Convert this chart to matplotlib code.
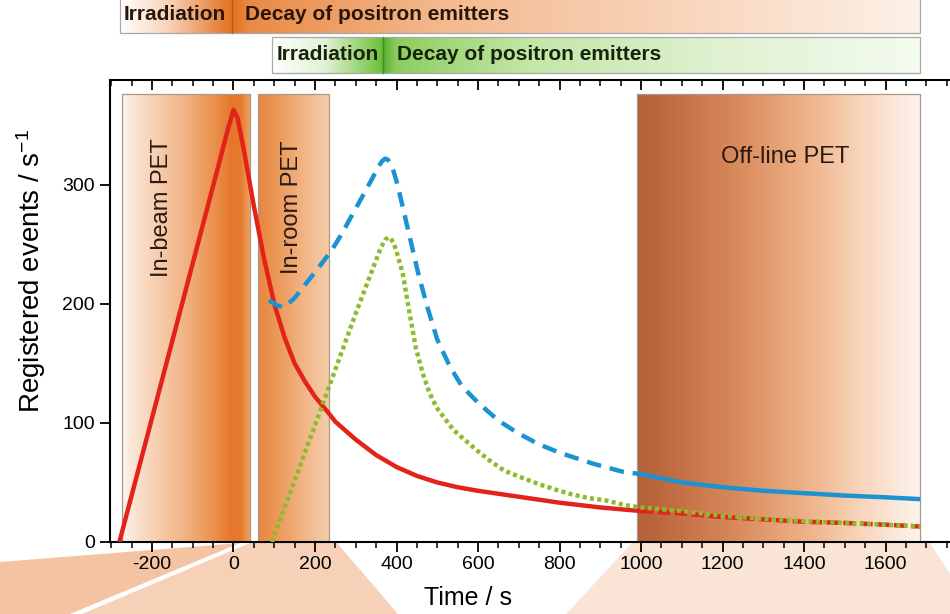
import numpy as np
import matplotlib
matplotlib.use("Agg")
import matplotlib.pyplot as plt
from matplotlib.colors import LinearSegmentedColormap
from matplotlib.patches import Polygon, Rectangle
from matplotlib.ticker import MultipleLocator
from matplotlib import font_manager

plt.rcParams["font.family"] = ["Liberation Sans", "DejaVu Sans"]
plt.rcParams["mathtext.default"] = "regular"

# ---- data (time in s, rate in events/s) ----
red_t = [-280, -200, -100, -40, -15, 0, 10, 25, 50, 75, 100, 125, 150, 175, 200, 234, 250,
         300, 350, 400, 450, 500, 550, 600, 700, 800, 900, 1000, 1100, 1200, 1300, 1400,
         1500, 1600, 1685]
red_v = [0, 104, 234, 312, 345, 363, 356, 330, 282, 238, 200, 172, 150, 135, 122, 108, 101,
         86, 73, 63, 55.5, 50, 46, 43, 38, 33, 29, 26, 24, 21, 19, 17,
         16, 14.5, 13]

blue_t = [87, 105, 124, 150, 180, 210, 241, 266, 290, 316, 340, 355, 365, 372, 379, 386,
          393, 400, 410, 423, 438, 453, 475, 500, 530, 560, 600, 650, 700, 750, 800, 880, 955,
          1000, 1100, 1200, 1300, 1400, 1500, 1600, 1685]
blue_v = [203, 199, 197, 205, 218, 231, 245, 259, 274, 290, 305, 315, 320, 322, 321, 317,
          311, 303, 289, 270, 248, 226, 198, 170, 148, 131, 117, 102, 91, 82, 75, 66, 59,
          57, 50, 46, 43, 41, 39, 37.5, 36]

green_t = [94, 150, 200, 250, 300, 340, 360, 372, 382, 392, 400, 415, 432, 448, 465, 480,
           498, 520, 540, 570, 597, 630, 664, 700, 746, 790, 830, 870, 913, 960, 1000,
           1100, 1200, 1300, 1400, 1500, 1600, 1685]
green_v = [0, 52, 98, 145, 192, 228, 246, 254, 256, 252, 244, 226, 192, 162, 141, 126,
           113, 103, 94, 85, 77, 68, 60, 55, 49, 44, 40, 37, 35, 31, 29,
           26, 22, 19.5, 17.5, 16, 14.5, 13]

# measurement windows (start, end) in s
in_beam = (-274, 40)
in_room = (60, 234)
off_line = (990, 1685)
window_top = 376
switch_t = 1000   # after this time the curves change line style

x_ticks = [-200, 0, 200, 400, 600, 800, 1000, 1200, 1400, 1600]
y_ticks = [0, 100, 200, 300]

W, H = 950, 614
fig = plt.figure(figsize=(W / 100, H / 100), dpi=100)

# ---- figure-level decoration layer in pixel coordinates ----
bg = fig.add_axes([0, 0, 1, 1])
bg.axis("off")


def gradient(axis, x0, x1, y0, y1, stops, z):
    cmap = LinearSegmentedColormap.from_list("g", stops)
    axis.imshow(np.linspace(0, 1, 512)[None, :], cmap=cmap, extent=(x0, x1, y0, y1),
                aspect="auto", interpolation="bilinear", zorder=z)


# projection wedges beneath the axis
bg.add_patch(Polygon([(0, 562), (240, 543), (70, 614), (0, 614)], closed=True,
                     facecolor="#f3c3a2", edgecolor="none", zorder=0))
bg.add_patch(Polygon([(250, 543), (337, 543), (398, 614), (82, 614)], closed=True,
                     facecolor="#f6d1b8", edgecolor="none", zorder=0))
bg.add_patch(Polygon([(632, 543), (930, 543), (950, 574), (950, 614), (566, 614)], closed=True,
                     facecolor="#f9e4d6", edgecolor="none", zorder=0))

# orange time bar
gradient(bg, 120, 920, 33, -5,
         [(0.0, "#ffffff"), (0.06, "#f7d2b8"), (0.13, "#e67a2e"), (0.14, "#e2701f"),
          (0.16, "#e98a45"), (0.40, "#f3b98f"), (0.70, "#f8d5bb"), (1.0, "#fdf1e8")], 1)
bg.add_patch(Rectangle((120, -5), 800, 38, fill=False, edgecolor="#a8a8a8", lw=0.9, zorder=2))
bg.plot([232, 232], [-5, 33], color="#b85a18", lw=1.0, zorder=2)

# green time bar
gradient(bg, 272, 920, 73, 37,
         [(0.0, "#ffffff"), (0.08, "#e2f2d4"), (0.165, "#72c242"), (0.172, "#5cb232"),
          (0.19, "#8ccd5e"), (0.40, "#c4e6a8"), (0.70, "#e0f2d2"), (1.0, "#f4fbef")], 1)
bg.add_patch(Rectangle((272, 37), 648, 36, fill=False, edgecolor="#a8a8a8", lw=0.9, zorder=2))
bg.plot([383, 383], [37, 73], color="#3f8f20", lw=1.0, zorder=2)

names = {f.name for f in font_manager.fontManager.ttflist}
if "Liberation Sans Narrow" in names:
    bar_font, bar_size = "Liberation Sans Narrow", 17.5
else:
    bar_font, bar_size = "Liberation Sans", 15

bar_kw = dict(family=[bar_font, "DejaVu Sans"], fontsize=bar_size, fontweight="bold",
              va="center", zorder=3)
bg.text(124, 15, "Irradiation", color="#2a1608", **bar_kw)
bg.text(245, 15, "Decay of positron emitters", color="#2a1608", **bar_kw)
bg.text(277, 55, "Irradiation", color="#16240c", **bar_kw)
bg.text(397, 55, "Decay of positron emitters", color="#16240c", **bar_kw)

bg.set_xlim(0, W)
bg.set_ylim(H, 0)

# ---- main plot ----
ax = fig.add_axes([110 / W, (H - 542) / H, 1 - 110 / W, (542 - 80) / H])
ax.patch.set_alpha(0)

gradient(ax, in_beam[0], in_beam[1], 0, window_top,
         [(0.0, "#fdf3ec"), (0.15, "#f9ddc6"), (0.45, "#f3b98e"), (0.7, "#ec9452"),
          (0.86, "#e5772a"), (0.93, "#e67a2c"), (1.0, "#efa064")], 1)
gradient(ax, in_room[0], in_room[1], 0, window_top,
         [(0.0, "#e8853e"), (0.3, "#ec9b5c"), (0.7, "#f2b98c"), (1.0, "#f6cda8")], 1)
gradient(ax, off_line[0], off_line[1], 0, window_top,
         [(0.0, "#b4603a"), (0.1, "#bf6a40"), (0.35, "#d88a5c"), (0.6, "#efb288"),
          (0.8, "#f8d7be"), (1.0, "#fdf4ee")], 1)
for (a, b) in (in_beam, in_room, off_line):
    ax.add_patch(Rectangle((a, 0), b - a, window_top, fill=False,
                           edgecolor="#a89888", lw=0.9, zorder=2))

label_kw = dict(fontsize=17, color="#2a1a12", zorder=3)
ax.text(-175, 281, "In-beam PET", rotation=90, ha="center", va="center", **label_kw)
ax.text(143, 281, "In-room PET", rotation=90, ha="center", va="center", **label_kw)
ax.text(1353, 323, "Off-line PET", ha="center", va="center", **label_kw)

red_t = np.array(red_t); red_v = np.array(red_v)
blue_t = np.array(blue_t); blue_v = np.array(blue_v)
green_t = np.array(green_t); green_v = np.array(green_v)

RED, BLUE, GREEN = "#e2231a", "#1b93d2", "#8dbb2e"
m = red_t <= switch_t
ax.plot(red_t[m], red_v[m], color=RED, lw=3.2, solid_capstyle="butt",
        solid_joinstyle="round", zorder=5)
ax.plot(red_t[red_t >= switch_t], red_v[red_t >= switch_t], color=RED, lw=3.2,
        dashes=(2.8, 1.0), dash_capstyle="butt", zorder=5)

m = blue_t <= switch_t
ax.plot(blue_t[m], blue_v[m], color=BLUE, lw=3.2, dashes=(3.3, 2.0), dash_capstyle="butt",
        zorder=5)
ax.plot(blue_t[blue_t >= switch_t], blue_v[blue_t >= switch_t], color=BLUE, lw=3.2,
        solid_capstyle="butt", zorder=5)

ax.plot(green_t, green_v, color=GREEN, lw=3.2, dashes=(0.9, 0.75), dash_capstyle="butt",
        zorder=6)

ax.set_xlim(-303, 1758)
ax.set_ylim(0, 388)

ax.set_xticks(x_ticks)
ax.set_xticklabels([str(v) for v in x_ticks])
ax.xaxis.set_minor_locator(MultipleLocator(50))
ax.set_yticks(y_ticks)
ax.set_yticklabels([str(v) for v in y_ticks])
ax.tick_params(axis="x", which="major", direction="out", length=7, width=1.3,
               labelsize=14, pad=3)
ax.tick_params(axis="x", which="minor", direction="out", length=4, width=1.1)
ax.tick_params(axis="y", which="major", direction="out", length=7, width=1.3,
               labelsize=14, pad=4)

top = ax.secondary_xaxis("top")
top.set_xticks(x_ticks)
top.xaxis.set_minor_locator(MultipleLocator(50))
top.tick_params(which="major", direction="in", length=7, width=1.3, labeltop=False)
top.tick_params(which="minor", direction="in", length=4, width=1.1)
top.spines["top"].set_linewidth(1.5)

for s in ("left", "bottom"):
    ax.spines[s].set_linewidth(1.5)
ax.spines["right"].set_visible(False)
ax.spines["top"].set_visible(False)

ax.set_xlabel("Time / s", fontsize=18)
ax.xaxis.set_label_coords((468 - 110) / 840, -0.095)
ax.set_ylabel("Registered events / s$^{-1}$", fontsize=20)
ax.yaxis.set_label_coords(-0.074, 0.587)

fig.savefig("out.png", dpi=100)
